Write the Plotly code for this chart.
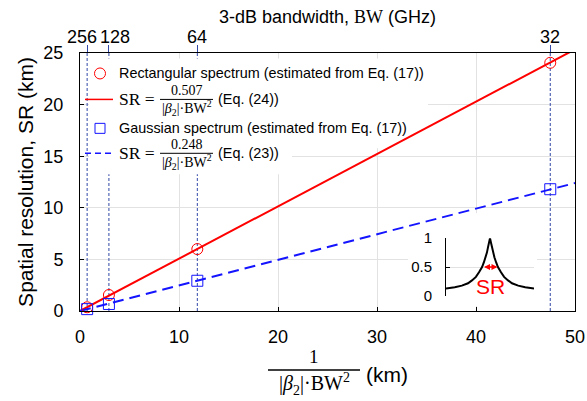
import plotly.graph_objects as go

# ---------------- data ----------------
bw_labels = ["256", "128", "64", "32"]          # 3-dB bandwidth (GHz), top axis
inv_bw2 = [0.72, 2.92, 11.85, 47.5]             # 1/(|b2|*BW^2) (km)
sr_rect = [0.36, 1.55, 6.0, 24.05]              # rectangular spectrum, SR (km)
sr_gauss = [0.18, 0.68, 2.93, 11.8]             # gaussian spectrum, SR (km)
fit_x = [0, 50]
fit_rect = [0, 25.35]                           # SR = 0.507/(|b2| BW^2)
fit_gauss = [0, 12.4]                           # SR = 0.248/(|b2| BW^2)
inset_x = [-1.0, -0.8, -0.64, -0.5, -0.41, -0.32, -0.25, -0.18, -0.14, -0.10, -0.07, -0.046, -0.02, 0.0,
           0.02, 0.046, 0.07, 0.10, 0.14, 0.18, 0.25, 0.32, 0.41, 0.5, 0.64, 0.8, 1.0]
inset_y = [0.13, 0.15, 0.18, 0.22, 0.27, 0.33, 0.41, 0.50, 0.58, 0.67, 0.75, 0.84, 0.93, 1.0,
           0.93, 0.84, 0.75, 0.67, 0.58, 0.50, 0.41, 0.33, 0.27, 0.22, 0.18, 0.15, 0.13]
inset_ticks = [0, 0.5, 1]
inset_ticktext = ["0", "0.5", "1"]
sr_arrow_x = [-0.17, 0.17]
sr_arrow_y = 0.5

SANS = "Liberation Sans, Arial, sans-serif"
SERIF = "Liberation Serif, Times New Roman, serif"
RED = "#ff0000"
BLUE = "#1414ff"
VLINE = "#3047a8"
GRID = "#e2e2e2"

# pixel -> paper / data helpers (plot area: x 80..575, y 52.5..311)
L, R, T, B = 80, 575, 52.5, 311
XMAX, YMAX = 50.0, 25.0


def dx(px):
    return (px - L) / (R - L)


def dy(py):
    return (B - py) / (B - T)


def vx(px):
    return dx(px) * XMAX


def vy(py):
    return dy(py) * YMAX


fig = go.Figure()

fig.add_trace(go.Scatter(x=fit_x, y=fit_rect, mode="lines",
                         line=dict(color=RED, width=2), showlegend=False, hoverinfo="skip"))
fig.add_trace(go.Scatter(x=fit_x, y=fit_gauss, mode="lines",
                         line=dict(color=BLUE, width=2, dash="11px,6px"), showlegend=False, hoverinfo="skip"))
fig.add_trace(go.Scatter(x=inv_bw2, y=sr_rect, mode="markers", cliponaxis=False,
                         marker=dict(symbol="circle-open", size=11, color=RED, line=dict(width=1)),
                         showlegend=False))
fig.add_trace(go.Scatter(x=inv_bw2, y=sr_gauss, mode="markers", cliponaxis=False,
                         marker=dict(symbol="square-open", size=11, color=BLUE, line=dict(width=1)),
                         showlegend=False))
# invisible trace to anchor the top axis
fig.add_trace(go.Scatter(x=inv_bw2, y=sr_rect, mode="markers", xaxis="x2", yaxis="y",
                         marker=dict(opacity=0), showlegend=False, hoverinfo="skip"))

# inset
fig.add_trace(go.Scatter(x=inset_x, y=inset_y, mode="lines", xaxis="x3", yaxis="y3",
                         line=dict(color="black", width=2), showlegend=False, hoverinfo="skip"))

shapes = []
# vertical dashed lines at the bandwidth positions
for xv in inv_bw2:
    shapes.append(dict(type="line", xref="x", yref="y", x0=xv, x1=xv, y0=0, y1=YMAX,
                       line=dict(color=VLINE, width=1, dash="3px,2px"), layer="between"))
# legend background (stepped)
for (x0, x1, y0, y1) in [(89, 428, 58, 115), (89, 410, 114, 148), (89, 292, 147, 174)]:
    shapes.append(dict(type="rect", xref="x", yref="y", x0=vx(x0), x1=vx(x1),
                       y0=vy(y1), y1=vy(y0), fillcolor="white", line=dict(width=0), layer="between"))
# inset background
shapes.append(dict(type="rect", xref="x", yref="y", x0=vx(408), x1=vx(537),
                   y0=vy(306), y1=vy(213), fillcolor="white", line=dict(width=0), layer="between"))
# legend symbols
shapes.append(dict(type="circle", xref="paper", yref="paper", xsizemode="pixel", ysizemode="pixel",
                   xanchor=dx(100), yanchor=dy(73), x0=-5.5, x1=5.5, y0=-5.5, y1=5.5,
                   line=dict(color=RED, width=1), layer="above"))
shapes.append(dict(type="line", xref="paper", yref="paper", x0=dx(85), x1=dx(113),
                   y0=dy(99), y1=dy(99), line=dict(color=RED, width=1.5), layer="above"))
shapes.append(dict(type="rect", xref="paper", yref="paper", xsizemode="pixel", ysizemode="pixel",
                   xanchor=dx(100), yanchor=dy(128), x0=-5, x1=5, y0=-5, y1=5,
                   line=dict(color=BLUE, width=1), layer="above"))
shapes.append(dict(type="line", xref="paper", yref="paper", x0=dx(85), x1=dx(113),
                   y0=dy(153), y1=dy(153), line=dict(color=BLUE, width=1.5, dash="6px,4px"), layer="above"))
# fraction bars
for yb in (99, 153):
    shapes.append(dict(type="line", xref="paper", yref="paper", x0=dx(160), x1=dx(213),
                       y0=dy(yb), y1=dy(yb), line=dict(color="black", width=1), layer="above"))
shapes.append(dict(type="line", xref="paper", yref="paper", x0=dx(268), x1=dx(360),
                   y0=dy(370), y1=dy(370), line=dict(color="black", width=1.5), layer="above"))

ann = []


def txt(text, px, py, size, family=SANS, anchor="left", color="black"):
    ann.append(dict(text=text, xref="paper", yref="paper", x=dx(px), y=dy(py), xanchor=anchor,
                    yanchor="middle", showarrow=False, font=dict(size=size, family=family, color=color)))


den = "|<i>β</i><sub>2</sub>|·BW<sup>2</sup>"
txt("Rectangular spectrum (estimated from Eq. (17))", 117, 73, 14.4)
txt("SR =", 117, 99, 17.5, SERIF)
txt("0.507", 186.5, 90, 14, SERIF, "center")
txt(den, 186.5, 108, 14, SERIF, "center")
txt("(Eq. (24))", 216, 99, 14.4)
txt("Gaussian spectrum (estimated from Eq. (17))", 117, 128, 14.4)
txt("SR =", 117, 153, 17.5, SERIF)
txt("0.248", 186.5, 144, 14, SERIF, "center")
txt(den, 186.5, 162, 14, SERIF, "center")
txt("(Eq. (23))", 216, 153, 14.4)

# top title
txt("3-dB bandwidth, <span style='font-family:Liberation Serif'>BW</span> (GHz)", 327, 16, 18, SANS, "center")
# x-axis title
txt("1", 314, 357, 19, SERIF, "center")
txt(den, 314, 384, 20, SERIF, "center")
txt("(km)", 364, 375, 21)

# top tick labels at the bandwidth positions
shifts = [-5, 6, 0, 0]
for xv, lab, s in zip(inv_bw2, bw_labels, shifts):
    ann.append(dict(text=lab, xref="x", yref="paper", x=xv, y=dy(36), xanchor="center", yanchor="middle",
                    xshift=s, showarrow=False, font=dict(size=18, family=SANS, color="black")))

# inset annotations
ann.append(dict(text="SR", xref="x3", yref="y3", x=0.0, y=0.16, showarrow=False,
                font=dict(size=21, family=SANS, color=RED)))
ann.append(dict(text="", xref="x3", yref="y3", axref="x3", ayref="y3",
                x=sr_arrow_x[1], y=sr_arrow_y, ax=sr_arrow_x[0], ay=sr_arrow_y,
                showarrow=True, arrowhead=2, arrowside="end+start", arrowsize=0.8,
                arrowwidth=1.5, arrowcolor=RED, standoff=0, startstandoff=0))

axis_common = dict(showline=True, linecolor="black", linewidth=1, mirror=True, ticks="inside",
                   ticklen=4, tickcolor="black", showgrid=True, gridcolor=GRID, zeroline=False,
                   tickfont=dict(family=SANS, size=18, color="black"))

fig.update_layout(
    width=587, height=401,
    margin=dict(l=80, r=12, t=52.5, b=90, autoexpand=False),
    paper_bgcolor="white", plot_bgcolor="white",
    showlegend=False,
    xaxis=dict(range=[0, XMAX], tickvals=[0, 10, 20, 30, 40, 50], ticklabelstandoff=9,
               ticklabeloverflow="allow", **axis_common),
    xaxis2=dict(overlaying="x", matches="x", side="top", range=[0, XMAX], tickvals=inv_bw2,
                showticklabels=False, ticks="outside", ticklen=7, tickcolor=VLINE, tickwidth=1,
                showgrid=False, showline=False, zeroline=False),
    yaxis=dict(range=[0, YMAX], tickvals=[0, 5, 10, 15, 20, 25], ticklabelstandoff=12,
               title=dict(text="Spatial resolution, SR (km)", font=dict(family=SANS, size=21, color="black"),
                          standoff=4), **axis_common),
    xaxis3=dict(domain=[dx(446), dx(534)], anchor="y3", range=[-1, 1], visible=False),
    yaxis3=dict(domain=[dy(296), dy(238)], anchor="x3", range=[0, 1], tickvals=inset_ticks,
                ticktext=inset_ticktext, showline=True, linecolor="black", linewidth=1, ticks="inside",
                ticklen=4, tickcolor="black", showgrid=True, gridcolor=GRID, zeroline=False,
                ticklabelstandoff=10, tickfont=dict(family=SANS, size=15, color="black")),
    shapes=shapes,
    annotations=ann,
)

fig.write_html("out.html", config={"displayModeBar": False},
               post_script="document.body.style.margin='0';document.body.style.overflow='hidden';")
